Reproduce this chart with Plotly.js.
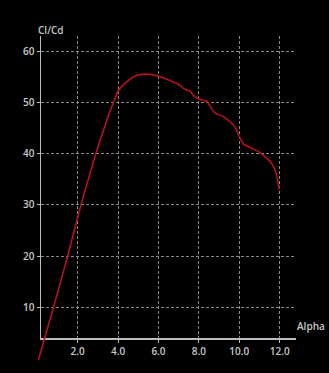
<!DOCTYPE html>
<html>
<head>
<meta charset="utf-8">
<script src="https://cdn.plot.ly/plotly-3.0.1.min.js"></script>
<style>
html,body{margin:0;padding:0;background:#000;}
#chart{width:329px;height:373px;}
</style>
</head>
<body>
<div id="chart"></div>
<script>
// Data
var alpha = [0.05, 0.8, 1.5, 2.16, 2.9, 3.44, 3.75, 4.0, 4.26, 4.59, 4.92, 5.2, 5.42, 5.7, 5.91, 6.15, 6.41, 6.7, 6.9, 7.1, 7.23, 7.4, 7.56, 7.72, 7.97, 8.2, 8.39, 8.58, 8.8, 9.13, 9.46, 9.79, 10.0, 10.2, 10.53, 10.94, 11.27, 11.6, 11.82, 11.98];
var clcd  = [-0.3, 10, 20, 30, 40, 46.5, 49.8, 52.2, 53.4, 54.5, 55.2, 55.45, 55.5, 55.4, 55.2, 54.9, 54.5, 54.0, 53.7, 53.2, 52.7, 52.4, 52.2, 51.4, 50.7, 50.4, 50.2, 49.1, 47.9, 47.4, 46.5, 45.2, 43.3, 41.9, 41.2, 40.4, 39.4, 38.1, 36.2, 33.0];
var xTickVals = [2, 4, 6, 8, 10, 12];
var xTickText = ["2.0", "4.0", "6.0", "8.0", "10.0", "12.0"];
var yTickVals = [10, 20, 30, 40, 50, 60];
var yTickText = ["10", "20", "30", "40", "50", "60"];
var xTitle = "Alpha";
var yTitle = "Cl/Cd";

// pixel geometry
var W = 329, H = 373;
var pxPerX = 20.2, x0px = 37.3;     // alpha = (px - x0px)/pxPerX
var pxPerY = 5.13, y60px = 51;      // value = 60 - (py - y60px)/pxPerY
function ax(px){ return (px - x0px) / pxPerX; }
function vy(py){ return 60 - (py - y60px) / pxPerY; }
var L = 41, R = 296, T = 36, B = 338;

var tickFont = {family: "Open Sans, sans-serif", size: 10, color: "#c8c8c8", weight: 600};

// invisible trace so the gridded axes are drawn
var frameTrace = {
  x: alpha, y: clcd, type: "scatter", mode: "lines",
  xaxis: "x", yaxis: "y", opacity: 0,
  line: {color: "rgba(0,0,0,0)", width: 0}, hoverinfo: "skip"
};
var trace = {
  x: alpha, y: clcd, type: "scatter", mode: "lines",
  xaxis: "x2", yaxis: "y2",
  line: {color: "#b5121b", width: 1.6, shape: "spline", smoothing: 0.5},
  hoverinfo: "skip"
};

var layout = {
  width: W, height: H,
  margin: {l: 0, r: 0, t: 0, b: 0},
  paper_bgcolor: "#000000",
  plot_bgcolor: "rgba(0,0,0,0)",
  showlegend: false,
  xaxis: {
    domain: [L / W, R / W], range: [ax(L), ax(R)], anchor: "y",
    tickvals: xTickVals, ticktext: xTickText, tickfont: tickFont,
    showgrid: true, gridcolor: "#8a8a8a", gridwidth: 1, griddash: "3px,2px",
    showline: true, linecolor: "#bdbdbd", linewidth: 1.5,
    ticks: "outside", ticklen: 3, tickcolor: "#bdbdbd", zeroline: false, fixedrange: true
  },
  yaxis: {
    domain: [(H - B) / H, (H - T) / H], range: [vy(B), vy(T)], anchor: "x",
    tickvals: yTickVals, ticktext: yTickText, tickfont: tickFont,
    showgrid: true, gridcolor: "#8a8a8a", gridwidth: 1, griddash: "3px,2px",
    showline: true, linecolor: "#bdbdbd", linewidth: 1.5,
    ticks: "outside", ticklen: 3, tickcolor: "#bdbdbd", zeroline: false, fixedrange: true
  },
  xaxis2: {domain: [0, 1], range: [ax(0), ax(W)], anchor: "y2", visible: false, fixedrange: true},
  yaxis2: {domain: [0, 1], range: [vy(H), vy(0)], anchor: "x2", visible: false, fixedrange: true},
  annotations: [
    {text: yTitle, xref: "paper", yref: "paper", x: 36 / W, y: 1 - 30 / H,
     xanchor: "left", yanchor: "middle", showarrow: false, font: tickFont},
    {text: xTitle, xref: "paper", yref: "paper", x: 327 / W, y: 1 - 326 / H,
     xanchor: "right", yanchor: "middle", showarrow: false, font: tickFont}
  ]
};

Plotly.newPlot("chart", [frameTrace, trace], layout, {displayModeBar: false, staticPlot: true});
</script>
</body>
</html>
